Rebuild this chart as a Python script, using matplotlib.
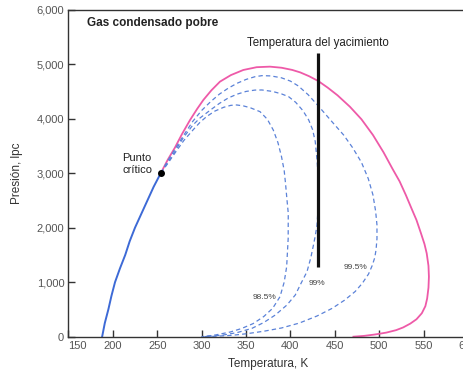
import numpy as np
import matplotlib.pyplot as plt

plt.rcParams['font.family'] = ['Liberation Sans', 'DejaVu Sans']

# Bubble-point curve (K, psi)
bub_t = [188, 191, 195, 198.5, 202.5, 208, 214, 219, 225, 232, 239, 246, 254]
bub_p = [0, 250, 500, 750, 1000, 1250, 1500, 1750, 2000, 2250, 2500, 2750, 3000]

# Dew-point curve
dew_t = [254, 262, 270, 278, 287, 295, 302, 311, 320.7, 333, 347, 362, 377, 390, 402, 411, 421,
         431.5, 442, 453, 467, 480, 493, 505, 515, 523, 530, 537, 542, 547, 551, 553.5, 555.5, 556,
         555.5, 554, 552, 548, 542, 535, 527, 519, 508, 495, 483, 471]
dew_p = [3000, 3250, 3470, 3720, 3976, 4180, 4344, 4520, 4680, 4800, 4894, 4945, 4955, 4935, 4895,
         4850, 4780, 4690, 4570, 4430, 4220, 3990, 3700, 3380, 3080, 2850, 2600, 2330, 2140, 1900,
         1700, 1530, 1300, 1100, 900, 700, 560, 430, 320, 240, 170, 120, 75, 40, 15, 0]

# Quality lines (liquid volume percent)
q995_t = [254, 262, 270, 280, 290, 300, 310, 320, 330, 340, 350, 360, 368, 378, 390, 400, 409, 420,
          431.5, 446, 460, 470, 480, 487.7, 493, 496, 497.5, 497.5, 496.5, 495, 492, 488, 481, 473,
          461, 447, 430, 410, 390, 370, 351, 334, 315, 300]
q995_p = [3000, 3230, 3440, 3700, 3950, 4150, 4310, 4450, 4560, 4650, 4720, 4770, 4790, 4785, 4750,
          4690, 4600, 4440, 4233, 3960, 3700, 3470, 3200, 2900, 2600, 2300, 2050, 1800, 1600, 1450,
          1300, 1150, 980, 830, 670, 520, 380, 250, 160, 100, 55, 25, 8, 0]
q99_t = [254, 262, 270, 279, 290, 298, 310, 320, 330, 340, 350, 360, 368, 380, 390, 398, 406, 414,
         420.6, 425, 428, 430, 431.5, 431.5, 430, 428, 426, 423, 418.7, 412, 405.5, 396, 383, 370,
         356.8, 340, 324.4, 310, 300]
q99_p = [3000, 3200, 3400, 3640, 3880, 4010, 4160, 4280, 4380, 4450, 4500, 4525, 4527, 4500, 4455,
         4404, 4300, 4150, 3977, 3800, 3580, 3243, 2876, 2450, 2050, 1850, 1683, 1450, 1193, 980,
         765, 580, 398, 260, 154, 75, 31, 10, 0]
q985_t = [254, 262, 270, 280, 290.7, 298, 305.7, 315, 325, 333, 339.5, 347, 355, 365.8, 374, 380.7,
          386, 390, 393, 394.5, 396, 397.6, 397.5, 396.5, 395.8, 393, 388.3, 380, 370, 358, 345,
          332, 315, 300]
q985_p = [3000, 3180, 3370, 3600, 3800, 3930, 4040, 4140, 4210, 4245, 4252, 4235, 4200, 4129, 3990,
          3793, 3560, 3303, 3050, 2815, 2540, 2265, 1800, 1500, 1285, 1000, 734, 520, 370, 240,
          150, 85, 30, 0]

res_t = 431.5
res_p = [1280, 5200]

blue = '#3d6ad6'
pink = '#ee5aa8'
dash = '#5b82d8'

fig = plt.figure(figsize=(4.64, 3.70), dpi=100)
ax = fig.add_axes([0.1474, 0.09, 0.8612, 0.8838])

ax.plot(bub_t, bub_p, color=blue, lw=1.4)
ax.plot(dew_t, dew_p, color=pink, lw=1.3)
for tt, pp in [(q995_t, q995_p), (q99_t, q99_p), (q985_t, q985_p)]:
    ax.plot(tt, pp, color=dash, lw=0.9, ls=(0, (3.5, 2.5)))
ax.plot([res_t, res_t], res_p, color='#111111', lw=2.3, solid_capstyle='butt')
ax.plot([254], [3000], 'o', color='black', ms=4, zorder=5)

ax.text(res_t, 5390, 'Temperatura del yacimiento', ha='center', va='center', fontsize=8.3, color='#222222')
ax.text(170.6, 5760, 'Gas condensado pobre', ha='left', va='center', fontsize=8.5, fontweight='bold', color='#222222')
ax.text(211, 3160, 'Punto\ncrítico', ha='left', va='center', fontsize=8, color='#222222', linespacing=1.25)
ax.text(371, 716, '98.5%', ha='center', va='center', fontsize=6, color='#444444')
ax.text(430, 980, '99%', ha='center', va='center', fontsize=6, color='#444444')
ax.text(473, 1266, '99.5%', ha='center', va='center', fontsize=6, color='#444444')

ax.set_xlim(150, 600)
ax.set_ylim(0, 6000)
ax.set_xticks(np.arange(150, 601, 50))
ax.set_yticks(np.arange(0, 6001, 1000))
ax.set_yticklabels(['0', '1,000', '2,000', '3,000', '4,000', '5,000', '6,000'])
ax.tick_params(direction='in', length=5, width=1, color='#333333', labelcolor='#555555', labelsize=8)
ax.tick_params(axis='x', pad=3)
ax.tick_params(axis='y', pad=3)
ax.get_xticklabels()[0].set_horizontalalignment('left')
for s in ax.spines.values():
    s.set_color('#333333')
    s.set_linewidth(1)
ax.set_xlabel('Temperatura, K', fontsize=8.5, color='#333333', labelpad=5)
ax.set_ylabel('Presión, lpc', fontsize=8.5, color='#333333', labelpad=10)

fig.savefig('out.png', dpi=100)
